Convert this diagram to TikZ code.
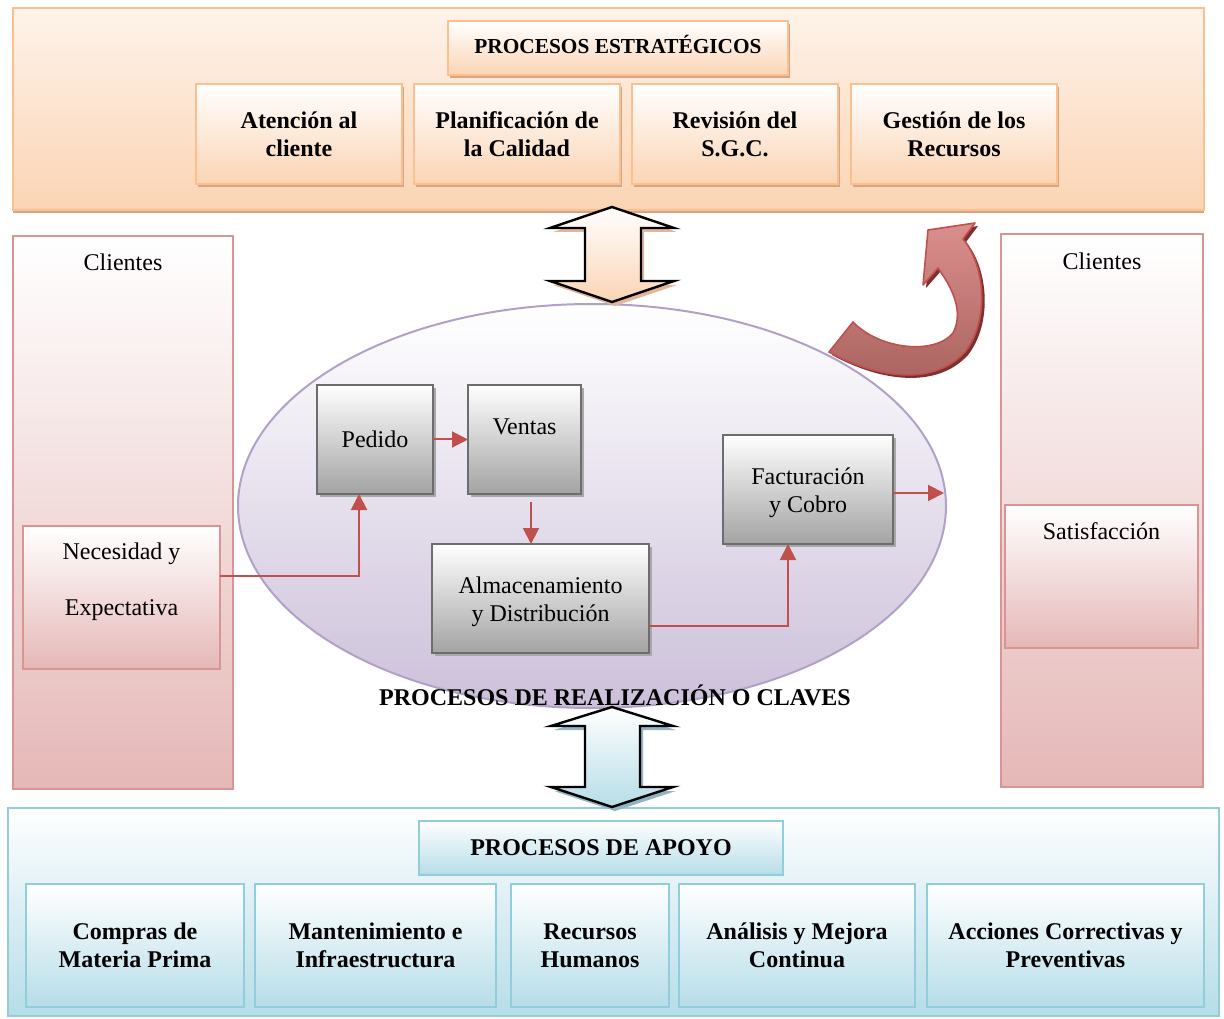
\documentclass[tikz,border=0pt]{standalone}
\usepackage{fontspec}
\setmainfont{Liberation Serif}
\usetikzlibrary{shapes.geometric,shadows,arrows.meta,calc}

\definecolor{orBorder}{HTML}{FAC090}
\definecolor{orFill}{HTML}{FBD4B4}
\definecolor{orTop}{HTML}{FEF3EA}
\definecolor{orShadow}{HTML}{D8A582}
\definecolor{pkBorder}{HTML}{D99594}
\definecolor{pkFill}{HTML}{E5B8B7}
\definecolor{blBorder}{HTML}{92CDDC}
\definecolor{blFill}{HTML}{B6DDE8}
\definecolor{blShadow}{HTML}{8FB5C2}
\definecolor{lvBorder}{HTML}{B2A1C7}
\definecolor{lvFill}{HTML}{CCC0DA}
\definecolor{gyBorder}{HTML}{6D6D6D}
\definecolor{gyFill}{HTML}{A3A3A3}
\definecolor{gyShadow}{HTML}{A8A8A8}
\definecolor{rdLine}{HTML}{C0504D}
\definecolor{rdTop}{HTML}{DB8F8D}
\definecolor{rdBot}{HTML}{A9625F}
\definecolor{rdShadow}{HTML}{7E302E}

\tikzset{
  sz/.style 2 args={minimum width={#1*0.75pt},minimum height={#2*0.75pt}},
  base/.style={inner sep=0pt,outer sep=0pt,align=center,font=\fontsize{18}{21}\selectfont},
  txt/.style={base},
  hdtxt/.style={base,font=\fontsize{18}{21}\selectfont\bfseries},
  orband/.style={base,draw=orBorder,line width=1.5pt,top color=orTop,bottom color=orFill,
    drop shadow={shadow xshift=0pt,shadow yshift=-2.5pt,fill=orShadow,opacity=1}},
  orbox/.style={base,draw=orBorder,line width=1.5pt,top color=white,bottom color=orFill,
    font=\fontsize{18}{21}\selectfont\bfseries,
    drop shadow={shadow xshift=1.5pt,shadow yshift=-2.5pt,fill=orShadow,opacity=1}},
  pkbox/.style={base,draw=pkBorder,line width=1.5pt,top color=white,bottom color=pkFill},
  blbox/.style={base,draw=blBorder,line width=1.5pt,top color=white,bottom color=blFill,
    font=\fontsize{18}{21}\selectfont\bfseries},
  gybox/.style={base,draw=gyBorder,line width=1.8pt,top color=white,bottom color=gyFill,
    drop shadow={shadow xshift=2.25pt,shadow yshift=-2.25pt,fill=gyShadow,opacity=1}},
  rarr/.style={draw=rdLine,line width=1.5pt,-{Triangle[length=12pt,width=12pt]}},
  blockarrow/.style={draw=black,line width=1.8pt,line join=miter},
}

\begin{document}
\begin{tikzpicture}[x=0.75pt,y=-0.75pt]
\useasboundingbox (0,0) rectangle (1224,1019);

% strategic processes band
\node[orband,sz={1191}{202}] (estr) at (608.5,109) {};
\node[orbox,font=\fontsize{16}{19}\selectfont\bfseries,text height=10.6pt,text depth=3pt,sz={340}{54}] (estrT) at (618,48) {PROCESOS ESTRATÉGICOS};
\node[orbox,sz={206}{100}] (aten) at (299,134) {Atención al\\cliente};
\node[orbox,sz={206}{100}] (plan) at (517,134) {Planificación de\\la Calidad};
\node[orbox,sz={206}{100}] (revi) at (735,134) {Revisión del\\S.G.C.};
\node[orbox,sz={206}{100}] (gest) at (954,134) {Gestión de los\\Recursos};

% customers on both sides
\node[pkbox,sz={220}{553}] (clL) at (123,512.5) {};
\node[txt] (clLT) at ($(clL.north)+(0,26)$) {Clientes};
\node[pkbox,sz={197}{143}] (nec) at (121.5,597.5) {};
\node[txt] (necT) at ($(nec.center)+(0,-16)$) {Necesidad y\\[21pt]Expectativa};

\node[pkbox,sz={202}{553}] (clR) at (1102,510.5) {};
\node[txt] (clRT) at ($(clR.north)+(0,27)$) {Clientes};
\node[pkbox,sz={193}{143}] (sat) at (1101.5,576.5) {};
\node[txt] (satT) at ($(sat.north)+(0,26)$) {Satisfacción};

% support processes band
\node[base,draw=blBorder,line width=1.5pt,top color=white,bottom color=blFill,sz={1211}{208}] (apoy) at (613.5,912) {};
\node[blbox,sz={364}{54}] (apoyT) at (601,848) {PROCESOS DE APOYO};
\node[blbox,sz={218}{123}] (comp) at (135,945.5) {Compras de\\Materia Prima};
\node[blbox,sz={241}{123}] (mant) at (375.5,945.5) {Mantenimiento e\\Infraestructura};
\node[blbox,sz={158}{123}] (recu) at (590,945.5) {Recursos\\Humanos};
\node[blbox,sz={236}{123}] (anal) at (797,945.5) {Análisis y Mejora\\Continua};
\node[blbox,sz={277}{123}] (acci) at (1065.5,945.5) {Acciones Correctivas y\\Preventivas};

% key processes
\node[ellipse,draw=lvBorder,line width=1.5pt,top color=white,bottom color=lvFill,
      inner sep=0pt,outer sep=0pt,sz={708}{404}] (ell) at (592,506) {};
\node[gybox,sz={116}{109}] (ped) at (375,439.5) {Pedido};
\node[gybox,sz={113}{109}] (ven) at (524.5,439.5) {};
\node[txt] (venT) at ($(ven.center)+(0,-12.5)$) {Ventas};
\node[gybox,sz={217}{109}] (alm) at (540.5,598.5) {};
\node[txt] (almT) at ($(alm.center)+(0,3)$) {Almacenamiento\\y Distribución};
\node[gybox,sz={170}{109}] (fac) at (808,489.5) {};
\node[txt] (facT) at ($(fac.center)+(0,3)$) {Facturación\\y Cobro};
\node[hdtxt] (clav) at (615,695) {PROCESOS DE REALIZACIÓN O CLAVES};

% flow between the key processes
\draw[rarr] (ped.east) -- (ven.west);
\coordinate (vd) at ($(ven.south)+(6.5,8)$);
\draw[rarr] (vd) -- (vd |- alm.north);
\draw[rarr] ($(nec.east)+(0,-21.5)$) -| ($(ped.south)+(-16,0)$);
\draw[rarr] ($(alm.east)+(0,27.5)$) -| ($(fac.south)+(-20,0)$);
\coordinate (fo) at ($(fac.east)+(0,3.5)$);
\draw[rarr] (fo) -- ($(fo -| ell.east)+(-2,0)$);

% block arrows between the bands
\fill[orShadow!80,shift={(3,4)}] (612,207) -- (674,228) -- (641,228) -- (641,281) -- (674,281)
  -- (612,302) -- (550,281) -- (585,281) -- (585,228) -- (550,228) -- cycle;
\shade[blockarrow,top color=white,bottom color=orFill] (612,207) -- (674,228) -- (641,228)
  -- (641,281) -- (674,281) -- (612,302) -- (550,281) -- (585,281) -- (585,228) -- (550,228) -- cycle;

\fill[blShadow,shift={(3,4)}] (612,707) -- (673,726) -- (640,726) -- (640,787) -- (673,787)
  -- (612,807) -- (551,787) -- (585,787) -- (585,726) -- (551,726) -- cycle;
\shade[blockarrow,top color=white,bottom color=blFill] (612,707) -- (673,726) -- (640,726)
  -- (640,787) -- (673,787) -- (612,807) -- (551,787) -- (585,787) -- (585,726) -- (551,726) -- cycle;

% curved feedback arrow
\fill[rdShadow,shift={(3,3)}] (829,352) -- (853,322) .. controls (880,350) and (935,355) .. (953,333)
  .. controls (965,310) and (950,285) .. (938,268) -- (923,285) -- (928,230) -- (975,223) -- (963,239)
  .. controls (985,265) and (990,320) .. (965,352) .. controls (935,385) and (880,380) .. (829,352) -- cycle;
\shade[top color=rdTop,bottom color=rdBot,draw=rdLine,line width=1.2pt,line join=round]
  (829,352) -- (853,322) .. controls (880,350) and (935,355) .. (953,333)
  .. controls (965,310) and (950,285) .. (938,268) -- (923,285) -- (928,230) -- (975,223) -- (963,239)
  .. controls (985,265) and (990,320) .. (965,352) .. controls (935,385) and (880,380) .. (829,352) -- cycle;
\end{tikzpicture}
\end{document}
